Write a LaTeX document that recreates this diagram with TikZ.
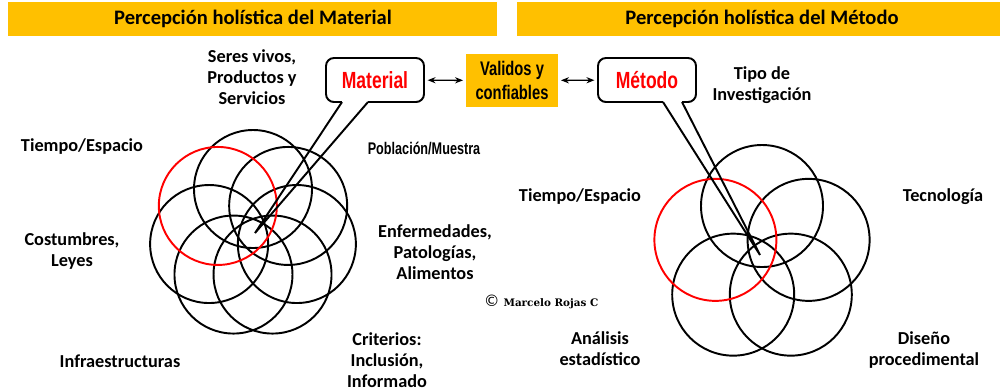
\documentclass[tikz,border=0pt]{standalone}
\usepackage{fontspec}
\setmainfont{Carlito}
\newfontfamily\narrowfont[FakeStretch=0.75]{Liberation Sans}
\newfontfamily\markfont{DejaVu Serif}
\newfontfamily\symbfont{DejaVu Sans}
\usetikzlibrary{arrows.meta}
\definecolor{gold}{RGB}{255,192,0}
\begin{document}
\begin{tikzpicture}[x=.02cm,y=-.02cm,
lbl/.style={align=center,font=\fontsize{10.4}{12}\selectfont\bfseries},
ttl/.style={font=\fontsize{11.7}{14}\selectfont\bfseries},
ring/.style={line width=1.1pt},
bubble/.style={draw,line width=1.1pt,rounded corners=4.5pt,fill=white,minimum width=1.96cm,minimum height=.88cm,text=red,font=\narrowfont\fontsize{13.3}{15}\selectfont\bfseries},
dbl/.style={{Stealth[length=4.5pt,width=3.5pt]}-{Stealth[length=4.5pt,width=3.5pt]},line width=.8pt,shorten <=1.5pt,shorten >=1.5pt}]
\useasboundingbox (0,0) rectangle (1000,390);
\fill[gold] (8,2) rectangle (497,36);
\fill[gold] (517,2) rectangle (1000,36);
\node[ttl] (tM) at (253,19) {Percepción holística del Material};
\node[ttl] (tT) at (762,19) {Percepción holística del Método};
\coordinate (cM) at (253,234);
\coordinate (cT) at (762,255);
\foreach \c/\n/\R/\r in {cM/7/45/59,cT/5/49/61}{
\pgfmathtruncatemacro{\last}{\n-1}
\foreach \k in {0,...,\last}{
\pgfmathsetmacro{\a}{-90-\k*360/\n}
\ifnum\k=1\else\draw[ring] (\c) ++(\a:\R) circle (\r);\fi
}
\pgfmathsetmacro{\a}{-90-360/\n}
\draw[ring,red] (\c) ++(\a:\R) circle (\r);
}
\node[bubble] (mat) at (375,80) {Material};
\node[bubble] (met) at (647,80) {Método};
\node[fill=gold,minimum width=1.84cm,minimum height=1.06cm,align=center,font=\narrowfont\fontsize{11.2}{13.2}\selectfont\bfseries] (val) at (512,80.5) {Validos y\\confiables};
\draw[dbl] (mat) -- (val);
\draw[dbl] (val) -- (met);
\coordinate (pM) at (255,233);
\coordinate (m1) at (342,102);
\coordinate (m2) at (368,102);
\coordinate (pT) at (760,255);
\coordinate (t1) at (663,102);
\coordinate (t2) at (682,102);
\draw[white,line width=1.6pt] (m1) -- (m2) (t1) -- (t2);
\draw[ring,line join=miter] (m1) -- (pM) -- (m2) (t1) -- (pT) -- (t2);
\node[lbl] (sv) at (252,77) {Seres vivos,\\Productos y\\Servicios};
\node[lbl] (te1) at (82,147) {Tiempo/Espacio};
\node[font=\narrowfont\fontsize{9.6}{11}\selectfont\bfseries] (pm) at (424,148) {Población/Muestra};
\node[lbl] (cl) at (72,251) {Costumbres,\\Leyes};
\node[lbl] (en) at (435,252) {Enfermedades,\\Patologías,\\Alimentos};
\node[lbl] (inf) at (120,361) {Infraestructuras};
\node[lbl] (cr) at (387,360) {Criterios:\\Inclusión,\\Informado};
\node[lbl] (ti) at (762,85) {Tipo de\\Investigación};
\node[lbl] (te2) at (580,197) {Tiempo/Espacio};
\node[lbl] (tc) at (943,197) {Tecnología};
\node[lbl] (an) at (600,349) {Análisis\\estadístico};
\node[lbl] (di) at (924,350) {Diseño\\procedimental};
\node (cp) at (541,302) {{\symbfont\fontsize{9}{10}\selectfont ©} {\markfont\fontsize{5.9}{7}\selectfont\bfseries Marcelo Rojas C}};
\end{tikzpicture}
\end{document}
